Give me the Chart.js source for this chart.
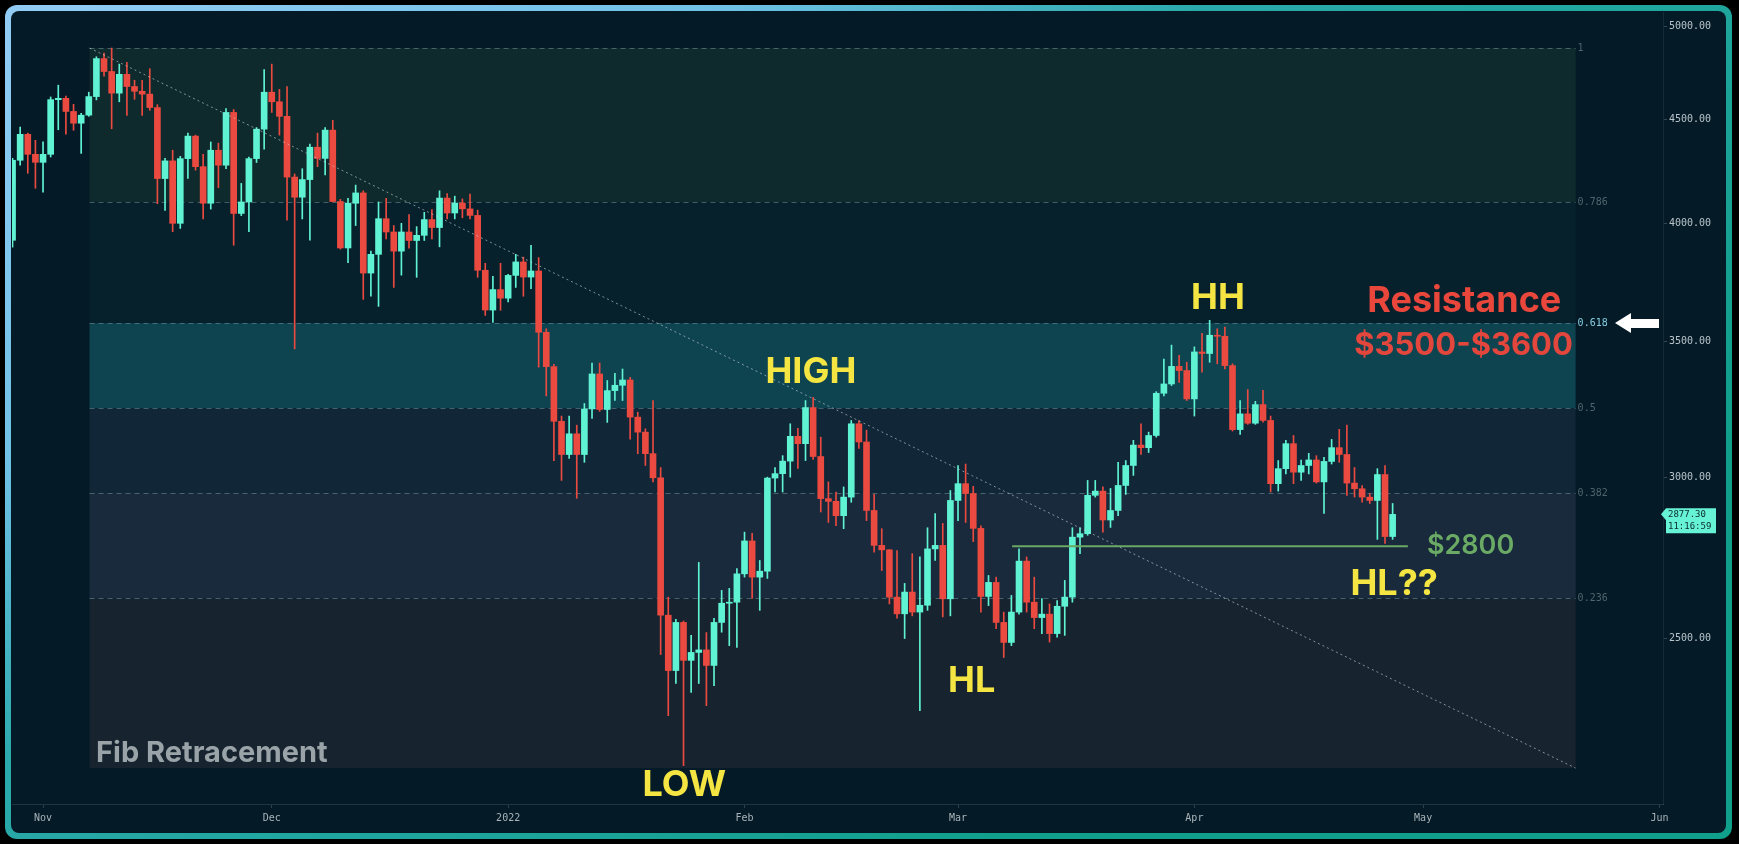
<!DOCTYPE html>
<html>
<head>
<meta charset="utf-8">
<title>ETH daily - Fib Retracement</title>
<script src="https://cdn.jsdelivr.net/npm/chart.js@4.4.1/dist/chart.umd.min.js"></script>
<style>
  html, body { margin: 0; padding: 0; background: #000; }
  #wrap { width: 1739px; height: 844px; position: relative; }
</style>
</head>
<body>
<div id="wrap"><canvas id="eth"></canvas></div>
<script>
// day 0 = 1 Nov 2021, first candle is 28 Oct 2021
const firstDay = -4;

const opens = [
  3924, 4296, 4424, 4325, 4286, 4325, 4601, 4608, 4540, 4480, 4521, 4617, 4820, 4750,
  4635, 4735, 4670, 4645, 4630, 4560, 4208, 4293, 4000, 4304, 4415, 4265, 4092, 4345,
  4272, 4535, 4045, 4098, 4304, 4450, 4640, 4590, 4515, 4215, 4120, 4203, 4360, 4305,
  4445, 4100, 3890, 4092, 4140, 3781, 3862, 4021, 3961, 3876, 3961, 3923, 3946, 4017,
  3981, 4116, 4047, 4093, 4066, 4036, 3793, 3626, 3711, 3675, 3771, 3829, 3764, 3790,
  3536, 3401, 3197, 3079, 3152, 3079, 3242, 3373, 3240, 3310, 3330, 3350, 3212, 3158,
  3082, 2999, 2567, 2411, 2546, 2439, 2461, 2468, 2425, 2546, 2602, 2605, 2690, 2792,
  2680, 2698, 2998, 3013, 3056, 3143, 3117, 3247, 3072, 2929, 2920, 2873, 2934, 3188,
  3123, 2890, 2778, 2764, 2620, 2571, 2635, 2576, 2596, 2767, 2778, 2615, 2923, 2979,
  2946, 2832, 2622, 2664, 2546, 2489, 2576, 2729, 2605, 2560, 2570, 2514, 2593, 2620,
  2804, 2815, 2940, 2954, 2859, 2890, 2973, 3041, 3112, 3103, 3146, 3300, 3335, 3402,
  3386, 3279, 3458, 3452, 3524, 3520, 3405, 3167, 3224, 3190, 3258, 3200, 2979, 3030,
  3117, 3018, 3041, 3060, 2985, 3055, 3103, 3079, 2981, 2962, 2934, 2923, 3010, 2806
];
const highs = [
  4305, 4461, 4430, 4394, 4386, 4615, 4677, 4620, 4577, 4530, 4640, 4830, 4850, 4878,
  4790, 4800, 4703, 4703, 4765, 4575, 4305, 4345, 4315, 4430, 4420, 4325, 4386, 4380,
  4555, 4550, 4185, 4312, 4458, 4760, 4790, 4655, 4670, 4230, 4255, 4375, 4430, 4458,
  4495, 4110, 4115, 4177, 4150, 3876, 4098, 4115, 3990, 4000, 4040, 3985, 4050, 4063,
  4150, 4137, 4125, 4112, 4135, 4060, 3823, 3767, 3823, 3776, 3862, 3850, 3902, 3848,
  3550, 3410, 3216, 3216, 3183, 3262, 3415, 3415, 3348, 3375, 3392, 3360, 3230, 3170,
  3273, 3034, 2620, 2555, 2550, 2509, 2725, 2517, 2558, 2640, 2646, 2706, 2820, 2816,
  2731, 3001, 3034, 3075, 3188, 3172, 3273, 3285, 3140, 2985, 2951, 2968, 3200, 3200,
  3165, 2943, 2831, 2765, 2762, 2661, 2752, 2742, 2834, 2880, 2848, 2956, 3041, 3046,
  2970, 2840, 2685, 2680, 2576, 2625, 2767, 2742, 2680, 2616, 2600, 2610, 2670, 2834,
  2834, 2990, 2990, 2968, 2963, 3052, 3058, 3129, 3188, 3158, 3306, 3430, 3485, 3445,
  3418, 3478, 3532, 3584, 3550, 3557, 3412, 3273, 3314, 3270, 3311, 3216, 3058, 3129,
  3146, 3060, 3083, 3075, 3069, 3132, 3168, 3183, 3034, 2973, 2946, 3030, 3041, 2913
];
const lows = [
  3893, 4272, 4233, 4162, 4144, 4312, 4447, 4425, 4444, 4330, 4515, 4600, 4725, 4452,
  4590, 4520, 4603, 4520, 4546, 4090, 4059, 3962, 3977, 4208, 4248, 4020, 4065, 4165,
  4255, 3902, 4035, 3962, 4285, 4350, 4535, 4420, 4014, 3470, 4020, 3924, 4265, 4225,
  4098, 3885, 3826, 3990, 3670, 3683, 3641, 3930, 3720, 3772, 3889, 3763, 3923, 3930,
  3895, 4020, 4020, 4025, 4020, 3763, 3604, 3576, 3625, 3660, 3720, 3683, 3715, 3399,
  3290, 3058, 2990, 3065, 2930, 3052, 3207, 3233, 3193, 3273, 3273, 3133, 3082, 3041,
  2985, 2455, 2291, 2376, 2165, 2352, 2376, 2317, 2370, 2518, 2480, 2475, 2680, 2616,
  2581, 2676, 2951, 2951, 3001, 3031, 3058, 3062, 2885, 2851, 2841, 2831, 2917, 3100,
  2857, 2757, 2700, 2600, 2558, 2500, 2565, 2304, 2581, 2731, 2562, 2565, 2857, 2851,
  2790, 2576, 2595, 2528, 2447, 2480, 2570, 2576, 2528, 2514, 2490, 2504, 2509, 2605,
  2752, 2810, 2934, 2820, 2835, 2873, 2943, 3007, 3079, 3086, 3140, 3290, 3329, 3341,
  3273, 3216, 3380, 3418, 3412, 3392, 3162, 3150, 3186, 3186, 3194, 2951, 2954, 3012,
  2979, 2990, 3012, 2981, 2880, 3046, 3052, 2940, 2934, 2917, 2913, 2797, 2784, 2797
];
const closes = [
  4296, 4424, 4325, 4286, 4325, 4601, 4608, 4540, 4480, 4521, 4617, 4820, 4750, 4635,
  4735, 4670, 4645, 4630, 4560, 4208, 4293, 4000, 4304, 4415, 4265, 4092, 4345, 4272,
  4535, 4045, 4098, 4304, 4450, 4640, 4590, 4515, 4215, 4120, 4203, 4360, 4305, 4445,
  4100, 3890, 4092, 4140, 3781, 3862, 4021, 3961, 3876, 3961, 3923, 3946, 4017, 3981,
  4116, 4047, 4093, 4066, 4036, 3793, 3626, 3711, 3675, 3771, 3829, 3764, 3790, 3536,
  3401, 3197, 3079, 3152, 3079, 3242, 3373, 3240, 3310, 3330, 3350, 3212, 3158, 3082,
  2999, 2567, 2411, 2546, 2439, 2461, 2468, 2425, 2546, 2602, 2605, 2690, 2792, 2680,
  2698, 2998, 3013, 3056, 3143, 3117, 3247, 3072, 2929, 2920, 2873, 2934, 3188, 3123,
  2890, 2778, 2764, 2620, 2571, 2635, 2576, 2596, 2767, 2778, 2615, 2923, 2979, 2946,
  2832, 2622, 2664, 2546, 2489, 2576, 2729, 2605, 2560, 2570, 2514, 2593, 2620, 2804,
  2815, 2940, 2954, 2859, 2890, 2973, 3041, 3112, 3103, 3146, 3300, 3335, 3402, 3386,
  3279, 3458, 3452, 3524, 3520, 3405, 3167, 3224, 3190, 3258, 3200, 2979, 3030, 3117,
  3018, 3041, 3060, 2985, 3055, 3103, 3079, 2981, 2962, 2934, 2923, 3010, 2806, 2877.3
];

const monthTicks = [0, 30, 61, 92, 120, 151, 181, 212];
const monthLabels = ['Nov', 'Dec', '2022', 'Feb', 'Mar', 'Apr', 'May', 'Jun'];
const priceTicks = [2500, 3000, 3500, 4000, 4500, 5000];

// fib retracement drawn on the log scale, from the Nov high to the Jan low
const fibRatios = [0, 0.236, 0.382, 0.5, 0.618, 0.786, 1];
const fibLow = 2159, fibHigh = 4878;
const fibFrom = 6.1, fibTo = 201;

const supportPrice = 2775, supportFrom = 127.1, supportTo = 179;
const lastPrice = 2877.30, lastTime = '11:16:59';

const days = closes.map((c, i) => firstDay + i);
const upColor = '#5ff3d4', downColor = '#ea4a40';
const candleColors = closes.map((c, i) => c >= opens[i] ? upColor : downColor);

const fibPrices = fibRatios.map(r => Math.exp(Math.log(fibLow) + r * (Math.log(fibHigh) - Math.log(fibLow))));
// zone i sits between fibRatios[i] and fibRatios[i+1]
const zoneColors = ['#17242f', '#182a3b', '#112636', '#0e4350', '#06202c', '#0f2a2c'];

const notes = [
  { text: 'HIGH', day: 100.7, price: 3379, color: '#f4e542', font: 'bold 36px Inter' },
  { text: 'HH', day: 154.1, price: 3675, color: '#f4e542', font: 'bold 36px Inter' },
  { text: 'LOW', day: 84.1, price: 2117, color: '#f4e542', font: 'bold 36px Inter' },
  { text: 'HL', day: 121.8, price: 2381, color: '#f4e542', font: 'bold 36px Inter' },
  { text: 'HL??', day: 177.2, price: 2658, color: '#f4e542', font: 'bold 36px Inter' },
  { text: 'Resistance', day: 186.4, price: 3662, color: '#e9473c', font: 'bold 36px Inter' },
  { text: '$3500-$3600', day: 186.3, price: 3484, color: '#e2463c', font: 'bold 31px Inter' },
  { text: '$2800', day: 181.5, price: supportPrice, color: '#6aaa65', font: '600 27px Inter', align: 'left' },
  { text: 'Fib Retracement', day: 6.95, price: 2195, color: '#9aa4a8', font: 'bold 29px Inter', align: 'left' }
];

const panelPlugin = {
  id: 'panel',
  beforeDraw(chart) {
    const ctx = chart.ctx;
    ctx.save();
    ctx.fillStyle = '#000';
    ctx.fillRect(0, 0, chart.width, chart.height);
    const g = ctx.createLinearGradient(0, 0, 700, 1100);
    g.addColorStop(0, '#93ccf4');
    g.addColorStop(0.3, '#70c0e6');
    g.addColorStop(0.5, '#2aa9aa');
    g.addColorStop(1, '#0f9f8a');
    ctx.fillStyle = g;
    ctx.beginPath();
    ctx.roundRect(5, 5, 1727, 834, 12);
    ctx.fill();
    ctx.fillStyle = '#041b27';
    ctx.beginPath();
    ctx.roundRect(11, 11, 1715, 822, 8);
    ctx.fill();
    ctx.restore();
  }
};

const fibPlugin = {
  id: 'fib',
  beforeDatasetsDraw(chart) {
    const ctx = chart.ctx, x = chart.scales.x, y = chart.scales.y;
    const xl = x.getPixelForValue(fibFrom), xr = x.getPixelForValue(fibTo);
    ctx.save();
    for (let i = 0; i < zoneColors.length; i++) {
      const yb = y.getPixelForValue(fibPrices[i]);
      const yt = y.getPixelForValue(fibPrices[i + 1]);
      ctx.fillStyle = zoneColors[i];
      ctx.fillRect(xl, yt, xr - xl, yb - yt);
    }
    ctx.font = '10px "DejaVu Sans Mono"';
    ctx.textBaseline = 'middle';
    ctx.textAlign = 'left';
    for (let i = 1; i < fibRatios.length; i++) {
      const yy = Math.round(y.getPixelForValue(fibPrices[i])) + 0.5;
      ctx.strokeStyle = 'rgba(120,160,170,0.5)';
      ctx.lineWidth = 1;
      ctx.setLineDash([5, 4]);
      ctx.beginPath();
      ctx.moveTo(xl, yy);
      ctx.lineTo(xr, yy);
      ctx.stroke();
      ctx.fillStyle = fibRatios[i] === 0.618 ? '#86cde0' : '#50646d';
      ctx.fillText(String(fibRatios[i]), xr + 2, yy);
    }
    ctx.restore();
  },
  afterDatasetsDraw(chart) {
    const ctx = chart.ctx, x = chart.scales.x, y = chart.scales.y, area = chart.chartArea;
    ctx.save();
    ctx.textBaseline = 'middle';
    notes.forEach(n => {
      ctx.font = n.font;
      ctx.fillStyle = n.color;
      ctx.textAlign = n.align || 'center';
      ctx.fillText(n.text, x.getPixelForValue(n.day), y.getPixelForValue(n.price));
    });

    // white arrow pointing at the 0.618 level
    const ay = y.getPixelForValue(fibPrices[4]);
    const tip = area.right - 48;
    ctx.fillStyle = '#ffffff';
    ctx.beginPath();
    ctx.moveTo(tip, ay);
    ctx.lineTo(tip + 16, ay - 10);
    ctx.lineTo(tip + 16, ay - 4);
    ctx.lineTo(area.right - 4, ay - 4);
    ctx.lineTo(area.right - 4, ay + 5);
    ctx.lineTo(tip + 16, ay + 5);
    ctx.lineTo(tip + 16, ay + 10);
    ctx.closePath();
    ctx.fill();

    // last price tag on the price axis
    const py = y.getPixelForValue(lastPrice);
    const r = area.right;
    ctx.fillStyle = '#66f2d4';
    ctx.beginPath();
    ctx.moveTo(r - 2, py);
    ctx.lineTo(r + 3, py - 6);
    ctx.lineTo(r + 53, py - 6);
    ctx.lineTo(r + 53, py + 19);
    ctx.lineTo(r + 3, py + 19);
    ctx.lineTo(r + 3, py + 6);
    ctx.closePath();
    ctx.fill();
    ctx.fillStyle = '#0b2a2c';
    ctx.font = '9px "DejaVu Sans Mono"';
    ctx.textAlign = 'left';
    ctx.fillText(lastPrice.toFixed(2), r + 5, py);
    ctx.fillText(lastTime, r + 5, py + 12);
    ctx.restore();
  }
};

new Chart(document.getElementById('eth'), {
  type: 'bar',
  data: {
    datasets: [{
      label: 'wick',
      data: days.map((d, i) => ({ x: d, y: [lows[i], highs[i]] })),
      backgroundColor: candleColors,
      barThickness: 1,
      grouped: false,
      order: 3
    }, {
      label: 'body',
      data: days.map((d, i) => ({ x: d, y: [opens[i], closes[i]] })),
      backgroundColor: candleColors,
      barThickness: 6,
      minBarLength: 1,
      grouped: false,
      order: 2
    }, {
      type: 'line',
      label: 'trend',
      data: [{ x: fibFrom, y: fibHigh }, { x: fibTo, y: fibLow }],
      borderColor: 'rgba(205,215,220,0.6)',
      borderWidth: 1,
      borderDash: [2, 3],
      pointRadius: 0,
      order: 1
    }, {
      type: 'line',
      label: 'support',
      data: [{ x: supportFrom, y: supportPrice }, { x: supportTo, y: supportPrice }],
      borderColor: '#6aa865',
      borderWidth: 2,
      pointRadius: 0,
      order: 0
    }]
  },
  options: {
    responsive: true,
    maintainAspectRatio: false,
    animation: false,
    layout: { padding: { left: 12, top: 12, right: 14, bottom: 12 } },
    plugins: {
      legend: { display: false },
      tooltip: { enabled: false }
    },
    scales: {
      x: {
        type: 'linear',
        position: 'bottom',
        offset: false,
        min: -4.07,
        max: 212.46,
        afterBuildTicks: s => { s.ticks = monthTicks.map(v => ({ value: v })); },
        afterFit: s => { s.height = 28; },
        ticks: {
          callback: v => monthLabels[monthTicks.indexOf(v)],
          color: '#a9b3b9',
          font: { family: 'DejaVu Sans Mono', size: 10 },
          maxRotation: 0,
          autoSkip: false,
          padding: 4
        },
        grid: { offset: false, drawOnChartArea: false, tickLength: 4, color: 'rgba(160,180,190,0.25)' },
        border: { color: '#1f3642' }
      },
      y: {
        type: 'logarithmic',
        position: 'right',
        min: 2073,
        max: 5081,
        afterBuildTicks: s => { s.ticks = priceTicks.map(v => ({ value: v })); },
        afterFit: s => { s.width = 62; },
        ticks: {
          callback: v => Number(v).toFixed(2),
          color: '#b9c3ca',
          font: { family: 'DejaVu Sans Mono', size: 10 },
          padding: 2
        },
        grid: { drawOnChartArea: false, tickLength: 4, color: 'rgba(160,180,190,0.3)' },
        border: { color: 'rgba(255,255,255,0.07)' }
      }
    }
  },
  plugins: [panelPlugin, fibPlugin]
});
</script>
</body>
</html>
